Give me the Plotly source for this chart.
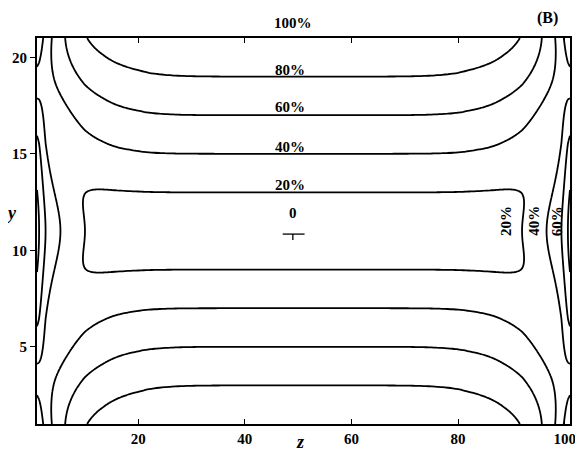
import numpy as np
import plotly.graph_objects as go

# ---- data ----
# y-profile: percent level of the horizontal contours at the centre (z ~ 50)
y_pts = [1, 3, 5, 7, 9, 11, 13, 15, 17, 19, 21]
y_pct = [100, 80, 60, 40, 20, 0, 20, 40, 60, 80, 100]

# z-profile: percent at mid-height (y = 11) versus distance from a side wall
wall_dist = [0.0, 0.4, 1.6, 4.4, 9.0, 12.5, 18.7, 25.0, 35.0]
wall_pct = [85, 80, 60, 40, 20, 13, 5.5, 1.5, 0.1]

levels = [20, 40, 60, 80]
z_ticks = [20, 40, 60, 80, 100]
y_ticks = [5, 10, 15, 20]
z_lo, z_hi = 1, 101

# corner interaction fitted to where contours meet the walls
k_corner, r_exp, s_exp, p_norm = 1.35, 1.15, 2.0, 4.0
valley = 0.13

centre_labels = ["80%", "60%", "40%", "20%", "0"]
centre_label_y = [19.34, 17.42, 15.35, 13.38, 11.91]
centre_label_z = [48.5, 48.5, 48.5, 48.5, 49.0]
side_labels = ["20%", "40%", "60%"]
side_label_z = [89.0, 94.2, 98.6]

# ---- build the field ----
zg = np.unique(np.concatenate([np.linspace(z_lo, 15, 113),
                               np.linspace(15, 87, 73),
                               np.linspace(87, z_hi, 113)]))
yg = np.linspace(1, 21, 161)
d = np.minimum(zg - z_lo, z_hi - zg)
h = np.exp(np.interp(d, wall_dist, np.log(np.array(wall_pct) / 100.0)))
g = np.interp(yg, y_pts, y_pct) / 100.0
G, H = np.meshgrid(g, h, indexing="ij")
Hn = H / (wall_pct[0] / 100.0)
S = (G ** p_norm + H ** p_norm) ** (1.0 / p_norm)
V = k_corner * G ** s_exp * H ** r_exp
E = valley * (4 * G * (1 - G)) ** 2 * (4 * Hn * (1 - Hn)) ** 2
F = 100.0 * (S - V - E)

serif = "Liberation Serif"

fig = go.Figure()
fig.add_trace(go.Contour(
    x=zg, y=yg, z=F,
    autocontour=False,
    contours=dict(start=levels[0], end=levels[-1], size=levels[1] - levels[0],
                  coloring="lines", showlabels=False),
    colorscale=[[0, "black"], [1, "black"]],
    line=dict(width=1.8),
    showscale=False, hoverinfo="skip",
))

lab_font = dict(family=serif, size=15, color="black")
ann = [dict(x=0.48, y=1.039, xref="paper", yref="paper", text="<b>100%</b>",
            showarrow=False, font=lab_font, xanchor="center", yanchor="middle")]
for t, zz, yy in zip(centre_labels, centre_label_z, centre_label_y):
    ann.append(dict(x=zz, y=yy, xref="x", yref="y", text="<b>%s</b>" % t,
                    showarrow=False, font=lab_font, xanchor="center", yanchor="middle"))
for t, zz in zip(side_labels, side_label_z):
    ann.append(dict(x=zz, y=11.52, xref="x", yref="y", text="<b>%s</b>" % t,
                    showarrow=False, textangle=-90, font=lab_font,
                    xanchor="center", yanchor="middle"))
ann.append(dict(x=-0.047, y=0.547, xref="paper", yref="paper", text="<b><i>y</i></b>",
                showarrow=False, font=dict(family=serif, size=18, color="black"),
                xanchor="center", yanchor="middle"))
ann.append(dict(x=0.4934, y=-0.047, xref="paper", yref="paper", text="<b><i>z</i></b>",
                showarrow=False, font=dict(family=serif, size=18, color="black"),
                xanchor="center", yanchor="middle"))
ann.append(dict(x=0.9587, y=1.052, xref="paper", yref="paper", text="<b>(B)</b>",
                showarrow=False, font=dict(family=serif, size=16, color="black"),
                xanchor="center", yanchor="middle"))

shapes = [
    dict(type="line", xref="x", yref="y", x0=47.1, x1=51.2, y0=10.84, y1=10.84,
         line=dict(color="black", width=1.3)),
    dict(type="line", xref="x", yref="y", x0=49.0, x1=49.0, y0=10.84, y1=10.53,
         line=dict(color="black", width=1.3)),
]

tick_font = dict(family=serif, size=15, color="black")
fig.update_layout(
    width=583, height=451,
    margin=dict(l=29, r=21, t=30, b=35),
    paper_bgcolor="white", plot_bgcolor="white",
    showlegend=False,
    annotations=ann, shapes=shapes,
    xaxis=dict(range=[z_lo, z_hi], tickvals=z_ticks, ticktext=["<b>%d</b>" % v for v in z_ticks],
               ticks="inside", ticklen=5, automargin=False,
               tickwidth=1.2, tickcolor="black", mirror="ticks", showline=True,
               linewidth=2, linecolor="black", showgrid=False, zeroline=False,
               tickfont=tick_font),
    yaxis=dict(range=[1, 21], tickvals=y_ticks, ticktext=["<b>%d</b>" % v for v in y_ticks],
               ticks="outside", ticklen=5, automargin=False,
               tickwidth=1.2, tickcolor="black", mirror=True, showline=True,
               linewidth=2, linecolor="black", showgrid=False, zeroline=False,
               tickfont=tick_font),
    yaxis2=dict(range=[1, 21], tickvals=y_ticks, ticks="inside", ticklen=5,
                automargin=False,
                tickwidth=1.2, tickcolor="black", overlaying="y", side="right",
                showticklabels=False, showline=False, showgrid=False, zeroline=False),
)

fig.write_html("out.html")
